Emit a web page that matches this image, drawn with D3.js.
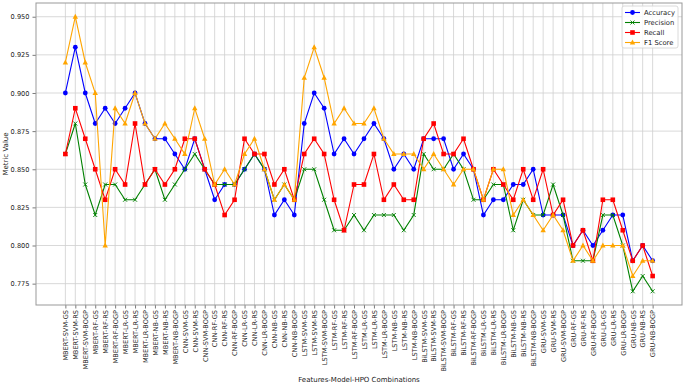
<!DOCTYPE html>
<html>
<head>
<meta charset="utf-8">
<script src="https://cdn.jsdelivr.net/npm/d3@7"></script>
<style>
  body { margin: 0; background: #fff; }
  text { font-family: "DejaVu Sans", sans-serif; }
</style>
</head>
<body>
<div id="chart"></div>
<script>
// categories (Features-Model-HPO)
const categories = [
  "MBERT-SVM-GS","MBERT-SVM-RS","MBERT-SVM-BOGP","MBERT-RF-GS","MBERT-RF-RS","MBERT-RF-BOGP",
  "MBERT-LR-GS","MBERT-LR-RS","MBERT-LR-BOGP","MBERT-NB-GS","MBERT-NB-RS","MBERT-NB-BOGP",
  "CNN-SVM-GS","CNN-SVM-RS","CNN-SVM-BOGP","CNN-RF-GS","CNN-RF-RS","CNN-RF-BOGP",
  "CNN-LR-GS","CNN-LR-RS","CNN-LR-BOGP","CNN-NB-GS","CNN-NB-RS","CNN-NB-BOGP",
  "LSTM-SVM-GS","LSTM-SVM-RS","LSTM-SVM-BOGP","LSTM-RF-GS","LSTM-RF-RS","LSTM-RF-BOGP",
  "LSTM-LR-GS","LSTM-LR-RS","LSTM-LR-BOGP","LSTM-NB-GS","LSTM-NB-RS","LSTM-NB-BOGP",
  "BiLSTM-SVM-GS","BiLSTM-SVM-RS","BiLSTM-SVM-BOGP","BiLSTM-RF-GS","BiLSTM-RF-RS","BiLSTM-RF-BOGP",
  "BiLSTM-LR-GS","BiLSTM-LR-RS","BiLSTM-LR-BOGP","BiLSTM-NB-GS","BiLSTM-NB-RS","BiLSTM-NB-BOGP",
  "GRU-SVM-GS","GRU-SVM-RS","GRU-SVM-BOGP","GRU-RF-GS","GRU-RF-RS","GRU-RF-BOGP",
  "GRU-LR-GS","GRU-LR-RS","GRU-LR-BOGP","GRU-NB-GS","GRU-NB-RS","GRU-NB-BOGP"
];

const accuracy = [
  .90,.93,.90,.88,.89,.88,.89,.90,.88,.87,.87,.86,
  .85,.87,.85,.83,.84,.84,.85,.86,.85,.82,.83,.82,
  .88,.90,.89,.86,.87,.86,.87,.88,.87,.85,.86,.85,
  .87,.87,.87,.85,.86,.85,.82,.83,.83,.84,.84,.85,
  .82,.82,.82,.80,.81,.80,.81,.82,.82,.79,.80,.79
];
const precision = [
  .86,.88,.84,.82,.84,.84,.83,.83,.84,.85,.83,.84,
  .85,.86,.85,.84,.84,.84,.85,.86,.85,.83,.84,.83,
  .85,.85,.83,.81,.81,.82,.81,.82,.82,.82,.81,.82,
  .86,.85,.85,.86,.85,.83,.83,.84,.84,.81,.83,.82,
  .82,.84,.82,.79,.79,.79,.82,.82,.80,.77,.78,.77
];
const recall = [
  .86,.89,.87,.85,.83,.85,.84,.88,.84,.85,.84,.85,
  .87,.87,.85,.84,.82,.83,.87,.86,.86,.84,.85,.83,
  .86,.87,.86,.83,.81,.84,.84,.86,.83,.84,.83,.83,
  .87,.88,.86,.86,.87,.85,.83,.85,.84,.83,.85,.83,
  .85,.82,.83,.80,.81,.79,.83,.83,.81,.79,.80,.78
];
const f1 = [
  .92,.95,.92,.90,.80,.89,.88,.90,.88,.87,.88,.87,
  .86,.89,.87,.84,.85,.84,.86,.87,.85,.83,.84,.83,
  .91,.93,.91,.88,.89,.88,.88,.89,.87,.86,.86,.86,
  .85,.86,.85,.84,.85,.85,.83,.85,.85,.82,.83,.82,
  .81,.82,.81,.79,.80,.79,.80,.80,.80,.78,.79,.79
];
const yTicks = [0.775, 0.800, 0.825, 0.850, 0.875, 0.900, 0.925, 0.950];

const series = [
  {name: "Accuracy",  values: accuracy,  color: "blue",   marker: "circle"},
  {name: "Precision", values: precision, color: "green",  marker: "x"},
  {name: "Recall",    values: recall,    color: "red",    marker: "square"},
  {name: "F1 Score",  values: f1,        color: "orange", marker: "triangle"}
];

const margin = {top: 3, right: 3, bottom: 81, left: 36};
const width = 685 - margin.left - margin.right;
const height = 386 - margin.top - margin.bottom;

const svg = d3.select("#chart").append("svg")
    .attr("width", 685).attr("height", 386)
    .append("g")
    .attr("transform", `translate(${margin.left},${margin.top})`);

const x = d3.scalePoint().domain(categories).range([0, width]).padding(2.95);
const y = d3.scaleLinear().domain([0.761, 0.959]).range([height, 0]);

// grid
svg.append("g").selectAll("line").data(categories).enter().append("line")
    .attr("x1", d => x(d)).attr("x2", d => x(d))
    .attr("y1", 0).attr("y2", height)
    .attr("stroke", "#cfcfcf").attr("stroke-width", 0.8);
svg.append("g").selectAll("line").data(yTicks).enter().append("line")
    .attr("x1", 0).attr("x2", width)
    .attr("y1", d => y(d)).attr("y2", d => y(d))
    .attr("stroke", "#cfcfcf").attr("stroke-width", 0.8);

// axes
const xAxis = svg.append("g")
    .attr("transform", `translate(0,${height})`)
    .call(d3.axisBottom(x).tickSize(3.5).tickSizeOuter(0));
xAxis.selectAll("text")
    .attr("transform", "rotate(-90)")
    .attr("x", -5).attr("y", 0).attr("dy", "0.35em")
    .style("text-anchor", "end")
    .style("font-size", "6.6px").attr("fill", "#222");

const yAxis = svg.append("g")
    .call(d3.axisLeft(y).tickValues(yTicks).tickFormat(d3.format(".3f")).tickSize(3.5).tickSizeOuter(0));
yAxis.selectAll("text").style("font-size", "6.6px").attr("fill", "#222");
svg.selectAll(".domain").remove();
svg.selectAll(".tick line").attr("stroke", "#444").attr("stroke-width", 0.7);

// frame
svg.append("rect")
    .attr("width", width).attr("height", height)
    .attr("fill", "none").attr("stroke", "#999").attr("stroke-width", 1);

// lines
const line = d3.line().x((d, i) => x(categories[i])).y(d => y(d));

function drawMarker(g, type, color, cx, cy) {
  if (type === "circle") {
    g.append("circle").attr("cx", cx).attr("cy", cy).attr("r", 2.4).attr("fill", color);
  } else if (type === "square") {
    g.append("rect").attr("x", cx - 2.3).attr("y", cy - 2.3).attr("width", 4.6).attr("height", 4.6).attr("fill", color);
  } else if (type === "triangle") {
    g.append("path").attr("d", `M${cx},${cy - 2.9}L${cx + 2.7},${cy + 2}L${cx - 2.7},${cy + 2}Z`).attr("fill", color);
  } else {
    g.append("path").attr("d", `M${cx - 2},${cy - 2}L${cx + 2},${cy + 2}M${cx - 2},${cy + 2}L${cx + 2},${cy - 2}`)
      .attr("stroke", color).attr("stroke-width", 0.9);
  }
}

series.forEach(s => {
  const g = svg.append("g");
  g.append("path").datum(s.values)
    .attr("d", line).attr("fill", "none")
    .attr("stroke", s.color).attr("stroke-width", 1.1);
  s.values.forEach((v, i) => drawMarker(g, s.marker, s.color, x(categories[i]), y(v)));
});

// axis titles
svg.append("text")
    .attr("x", width / 2).attr("y", height + 77)
    .attr("text-anchor", "middle").style("font-size", "7px").attr("fill", "#222")
    .text("Features-Model-HPO Combinations");
svg.append("text")
    .attr("transform", `translate(${-28},${height / 2}) rotate(-90)`)
    .attr("text-anchor", "middle").style("font-size", "7px").attr("fill", "#222")
    .text("Metric Value");

// legend
const legend = svg.append("g").attr("transform", `translate(${width - 60},${3})`);
legend.append("rect")
    .attr("width", 56).attr("height", 42).attr("rx", 2)
    .attr("fill", "white").attr("fill-opacity", 0.85)
    .attr("stroke", "#d0d0d0").attr("stroke-width", 0.8);
series.forEach((s, i) => {
  const ly = 6.5 + i * 10;
  legend.append("line").attr("x1", 3).attr("x2", 18).attr("y1", ly).attr("y2", ly)
    .attr("stroke", s.color).attr("stroke-width", 1.1);
  drawMarker(legend, s.marker, s.color, 10.5, ly);
  legend.append("text").attr("x", 22).attr("y", ly).attr("dy", "0.35em")
    .style("font-size", "6.8px").attr("fill", "#222").text(s.name);
});
</script>
</body>
</html>
